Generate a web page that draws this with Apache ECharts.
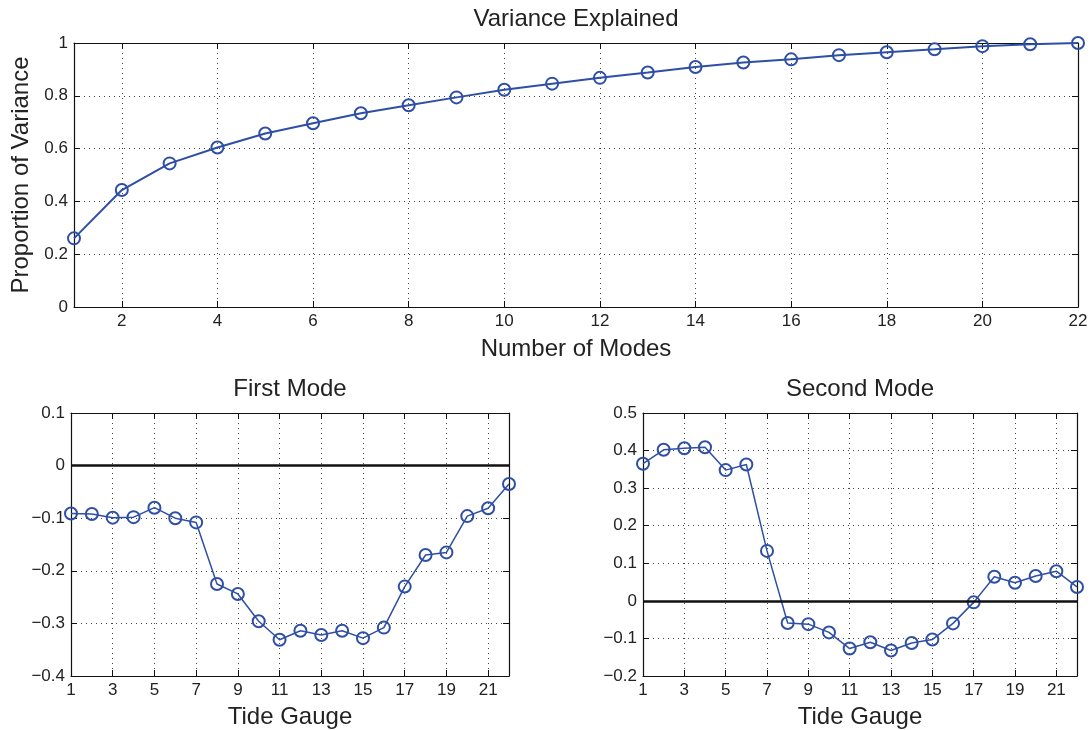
<!DOCTYPE html>
<html>
<head>
<meta charset="utf-8">
<script src="https://cdn.jsdelivr.net/npm/echarts@6/dist/echarts.min.js"></script>
<style>
  html, body { margin: 0; padding: 0; background: #fff; }
  #chart { width: 1092px; height: 730px; }
</style>
</head>
<body>
<div id="chart"></div>
<script>
// Cumulative proportion of variance explained by the leading modes
const modeNumbers = [1,2,3,4,5,6,7,8,9,10,11,12,13,14,15,16,17,18,19,20,21,22];
const varianceExplained = [0.260,0.443,0.544,0.604,0.657,0.696,0.734,0.764,0.794,0.823,0.846,
                           0.868,0.888,0.909,0.926,0.938,0.954,0.965,0.976,0.988,0.995,1.000];

// Spatial loadings per tide gauge
const gauges = [1,2,3,4,5,6,7,8,9,10,11,12,13,14,15,16,17,18,19,20,21,22];
const firstMode = [-0.091,-0.092,-0.099,-0.098,-0.080,-0.100,-0.108,-0.225,-0.244,-0.296,-0.331,
                   -0.314,-0.322,-0.314,-0.328,-0.308,-0.230,-0.170,-0.165,-0.096,-0.081,-0.035];
const secondMode = [0.365,0.402,0.406,0.409,0.348,0.363,0.133,-0.059,-0.062,-0.084,-0.127,
                    -0.110,-0.132,-0.112,-0.103,-0.060,-0.004,0.064,0.048,0.066,0.079,0.037];

// Tick positions
const modeTicks = [2,4,6,8,10,12,14,16,18,20,22];
const gaugeTicks = [1,3,5,7,9,11,13,15,17,19,21];

const FONT = '"Liberation Sans", Arial, Helvetica, sans-serif';
const TEXT = '#222';
const LINE = '#2f4fa5';
const AXIS = '#111';
const GRIDLINE = { show: true, lineStyle: { color: '#444', width: 1, type: [1, 4] } };

function fmt(v) {
  const r = parseFloat(Number(v).toFixed(2));
  return r < 0 ? '\u2212' + String(Math.abs(r)) : String(r);
}

function xAxes(gridIndex, ticks, name, nameGap) {
  const common = {
    type: 'value', gridIndex, min: 1, max: 22,
    axisLine: { show: true, onZero: false, lineStyle: { color: AXIS, width: 1.2 } },
    axisTick: { show: true, inside: true, length: 6, customValues: ticks, lineStyle: { color: AXIS, width: 1 } },
  };
  return [
    Object.assign({}, common, {
      position: 'bottom',
      name, nameLocation: 'middle', nameGap,
      nameTextStyle: { fontFamily: FONT, fontSize: 24, color: TEXT },
      axisLabel: { show: true, customValues: ticks, margin: 6, fontFamily: FONT, fontSize: 17, color: TEXT, formatter: fmt },
      splitLine: GRIDLINE
    }),
    Object.assign({}, common, {
      position: 'top',
      axisLabel: { show: false, customValues: ticks },
      splitLine: { show: false }
    })
  ];
}

function yAxes(gridIndex, min, max, interval, name) {
  const common = {
    type: 'value', gridIndex, min, max, interval,
    axisLine: { show: true, onZero: false, lineStyle: { color: AXIS, width: 1.2 } },
    axisTick: { show: true, inside: true, length: 6, lineStyle: { color: AXIS, width: 1 } },
  };
  const left = Object.assign({}, common, {
    position: 'left',
    axisLabel: { show: true, margin: 6, fontFamily: FONT, fontSize: 17, color: TEXT, formatter: fmt },
    splitLine: GRIDLINE
  });
  if (name) {
    left.name = name;
    left.nameLocation = 'middle';
    left.nameGap = 40;
    left.nameTextStyle = { fontFamily: FONT, fontSize: 24, color: TEXT };
  }
  return [
    left,
    Object.assign({}, common, {
      position: 'right',
      axisLabel: { show: false },
      splitLine: { show: false }
    })
  ];
}

function pairs(xs, ys) { return xs.map((x, i) => [x, ys[i]]); }

function lineSeries(xIndex, yIndex, data, width, withZero) {
  const s = {
    type: 'line', xAxisIndex: xIndex, yAxisIndex: yIndex, data,
    symbol: 'circle', symbolSize: 12,
    lineStyle: { color: LINE, width },
    itemStyle: { color: 'rgba(0,0,0,0)', borderColor: LINE, borderWidth: 2 },
    animation: false, silent: true, z: 3
  };
  if (withZero) {
    s.markLine = {
      silent: true, symbol: ['none', 'none'], animation: false,
      label: { show: false },
      lineStyle: { color: '#111', width: 2.5, type: 'solid' },
      data: [{ yAxis: 0 }]
    };
  }
  return s;
}

const titleStyle = { fontFamily: FONT, fontSize: 24, fontWeight: 'normal', color: TEXT };

const option = {
  backgroundColor: '#fff',
  animation: false,
  title: [
    { text: 'Variance Explained', left: 576, top: 7, textAlign: 'center', textStyle: titleStyle, padding: 0 },
    { text: 'First Mode', left: 290, top: 377, textAlign: 'center', textStyle: titleStyle, padding: 0 },
    { text: 'Second Mode', left: 860, top: 377, textAlign: 'center', textStyle: titleStyle, padding: 0 }
  ],
  grid: [
    { left: 74, top: 43, width: 1004, height: 264 },
    { left: 71, top: 413, width: 438, height: 263 },
    { left: 643, top: 413, width: 434, height: 263 }
  ],
  xAxis: [].concat(
    xAxes(0, modeTicks, 'Number of Modes', 30),
    xAxes(1, gaugeTicks, 'Tide Gauge', 29),
    xAxes(2, gaugeTicks, 'Tide Gauge', 29)
  ),
  yAxis: [].concat(
    yAxes(0, 0, 1, 0.2, 'Proportion of Variance'),
    yAxes(1, -0.4, 0.1, 0.1),
    yAxes(2, -0.2, 0.5, 0.1)
  ),
  series: [
    lineSeries(0, 0, pairs(modeNumbers, varianceExplained), 2, false),
    lineSeries(2, 2, pairs(gauges, firstMode), 1.5, true),
    lineSeries(4, 4, pairs(gauges, secondMode), 1.5, true)
  ]
};

const chart = echarts.init(document.getElementById('chart'), null, { renderer: 'canvas' });
chart.setOption(option);
</script>
</body>
</html>
